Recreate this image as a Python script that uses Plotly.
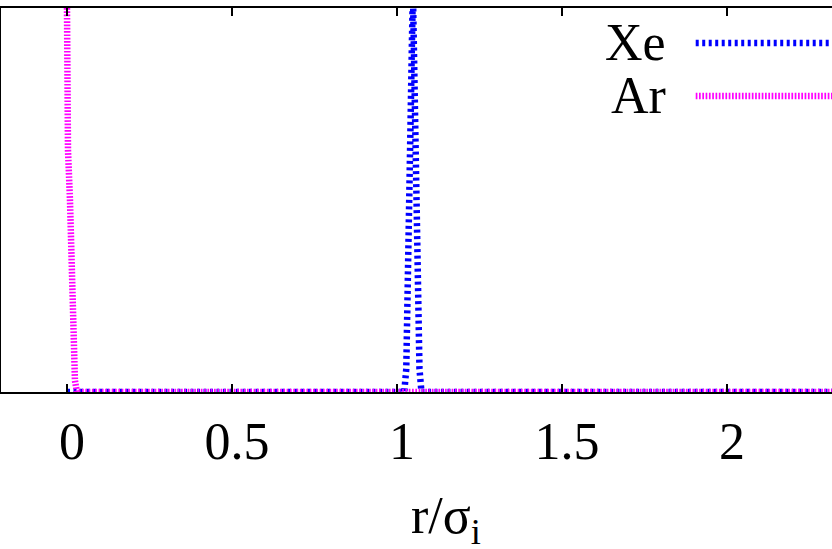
import plotly.graph_objects as go

# ------------------------------------------------------------------ data

XE_R = [0.0, 1.0, 1.022, 1.028, 1.048, 1.068, 1.074, 1.1, 2.5]
XE_Y = [0.0, 0.0, 0.0, 0.06, 1.05, 0.06, 0.0, 0.0, 0.0]

AR_R = [0.0, 0.003, 0.009, 0.015, 0.024, 0.03, 2.5]
AR_Y = [1.0, 0.63, 0.5, 0.24, 0.03, 0.0, 0.0]

X_TICKS = [0, 0.5, 1, 1.5, 2]
X_TICK_LABELS = ["0", "0.5", "1", "1.5", "2"]

XE_COLOR = "#0000ff"
AR_COLOR = "#ff00ff"
XE_DASH = "3px,3.5px"
AR_DASH = "1.7px,1.6px"
FONT = "Liberation Serif, Times New Roman, serif"

# ------------------------------------------------------------------ figure

fig = go.Figure()
fig.add_trace(go.Scatter(
    x=XE_R, y=XE_Y, mode="lines", name="Xe",
    line=dict(color=XE_COLOR, width=6.5, dash=XE_DASH),
))
fig.add_trace(go.Scatter(
    x=AR_R, y=AR_Y, mode="lines", name="Ar",
    line=dict(color=AR_COLOR, width=6.5, dash=AR_DASH),
))

axis_font = dict(family=FONT, size=52, color="black")

fig.update_layout(
    width=832,
    height=549,
    margin=dict(l=1, r=0, t=8, b=157, autoexpand=False),
    plot_bgcolor="white",
    paper_bgcolor="white",
    showlegend=False,
    xaxis=dict(
        range=[-0.2, 2.318],
        tickvals=X_TICKS,
        ticktext=X_TICK_LABELS,
        ticks="inside",
        ticklen=8,
        tickwidth=2,
        tickcolor="black",
        showline=True,
        linecolor="black",
        linewidth=2,
        mirror="ticks",
        showgrid=False,
        zeroline=False,
        tickfont=axis_font,
        ticklabelshift=5,
        ticklabelstandoff=3,
    ),
    yaxis=dict(
        range=[0, 1],
        showticklabels=False,
        ticks="",
        showline=True,
        linecolor="black",
        linewidth=2,
        showgrid=False,
        zeroline=False,
    ),
)

# axis title, centred on the (uncropped) original plot width
fig.add_annotation(
    text="r/σ<sub>i</sub>",
    xref="x", yref="paper",
    x=1.035, y=0, xanchor="left", yanchor="top",
    yshift=-93,
    showarrow=False,
    font=axis_font,
)

# gnuplot-style key: label on the left, line sample on the right
for name, color, dash, ypos in [("Xe", XE_COLOR, XE_DASH, 0.909),
                                ("Ar", AR_COLOR, AR_DASH, 0.771)]:
    fig.add_annotation(
        text=name, xref="paper", yref="paper",
        x=0.803, y=ypos, xanchor="right", yanchor="middle",
        showarrow=False, font=axis_font,
    )
    fig.add_shape(
        type="line", xref="paper", yref="paper",
        x0=0.836, x1=1.02, y0=ypos, y1=ypos,
        line=dict(color=color, width=6.5, dash=dash),
    )

# the page's default body margin would shift the figure by 8px
fig.write_html("out.html", config={"displayModeBar": False},
               post_script="document.body.style.margin='0px';")
